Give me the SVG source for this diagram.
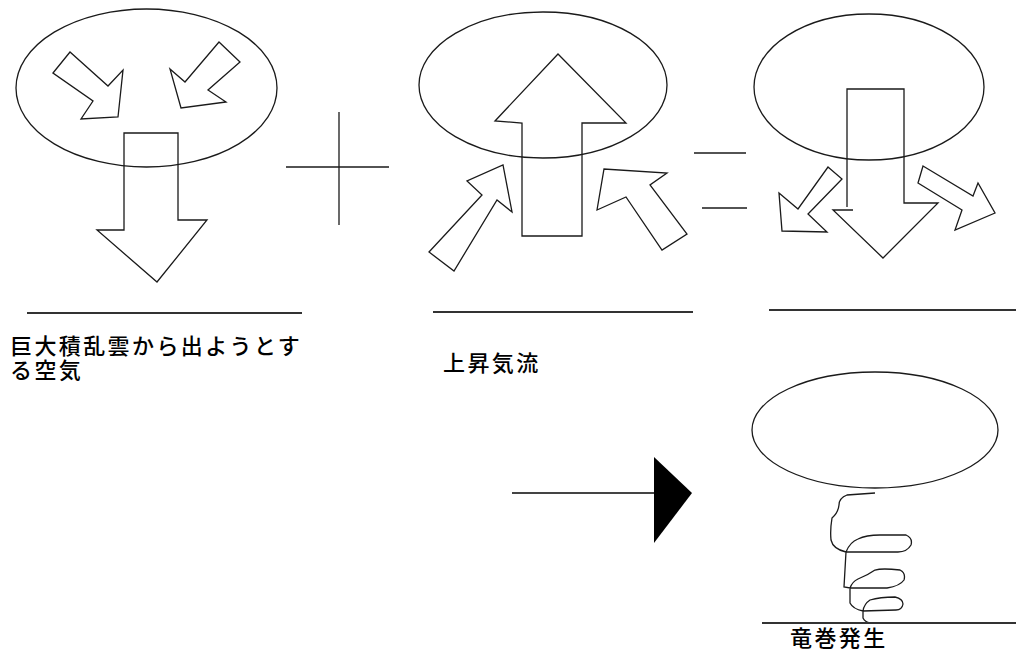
<svg xmlns="http://www.w3.org/2000/svg" width="1016" height="663" viewBox="0 0 1016 663">
  <style>
    .ln { fill: none; stroke: #1a1a1a; stroke-width: 1.3; stroke-linejoin: miter; }
    .sh { fill: #fff; stroke: #1a1a1a; stroke-width: 1.3; stroke-linejoin: miter; }
    .base { stroke: #333; stroke-width: 2; }
    .lbl { font-family: "Noto Sans CJK JP", "Noto Sans CJK SC", sans-serif; font-size: 22px; font-weight: 500; letter-spacing: 2.4px; fill: #000; }
  </style>
  <rect width="1016" height="663" fill="#fff"/>

  <!-- Panel 1: air trying to leave the cloud -->
  <g id="panel-outflow">
    <ellipse class="ln" cx="146.5" cy="88" rx="130.5" ry="79"/>
    <polygon class="sh" points="53,73 70,52 108,86 123,70 118,117 81,119 93,101"/>
    <polygon class="sh" points="170,69 185,82 219,42 240,62 208,90 226,102 181,108"/>
    <polygon class="ln" points="124,133 178,133 178,220 207,220 157,282 97,230 124,230"/>
    <line class="base" x1="27" y1="313" x2="302" y2="313"/>
    <text class="lbl"><tspan x="10" y="354">巨大積乱雲から出ようとす</tspan><tspan x="10" y="378">る空気</tspan></text>
  </g>

  <!-- plus sign -->
  <g id="plus">
    <line class="ln" x1="286" y1="167" x2="389" y2="167"/>
    <line class="ln" x1="339" y1="112" x2="339" y2="225"/>
  </g>

  <!-- Panel 2: updraft -->
  <g id="panel-updraft">
    <ellipse class="ln" cx="543" cy="85" rx="124" ry="73"/>
    <polygon class="ln" points="558,54 626,123 582,123 582,236 522,236 522,123 495,121"/>
    <polygon class="sh" points="429,252 482,195 467,181 503,165 512,212 497,200 454,271"/>
    <polygon class="sh" points="597,210 604,169 667,173 650,185 687,234 662,250 626,197"/>
    <line class="base" x1="433" y1="312" x2="693" y2="312"/>
    <text class="lbl" x="443" y="371">上昇気流</text>
  </g>

  <!-- equals sign -->
  <g id="equals">
    <line class="ln" x1="694" y1="153" x2="746" y2="153"/>
    <line class="ln" x1="702" y1="208" x2="747" y2="208"/>
  </g>

  <!-- Panel 3: downdraft spreading out -->
  <g id="panel-downdraft">
    <ellipse class="ln" cx="869" cy="87" rx="115" ry="73"/>
    <polyline class="ln" points="847,207 847,89 904,89 904,203 938,203 883,258 833,210 853,210"/>
    <polygon class="sh" points="828,167 842,179 808,214 827,232 782,231 779,193 798,209"/>
    <polygon class="sh" points="923,166 973,196 978,183 995,213 955,230 962,210 918,183"/>
    <line class="base" x1="769" y1="310" x2="1016" y2="310"/>
  </g>

  <!-- connector to the result -->
  <g id="connectors">
    <line x1="512" y1="493" x2="654" y2="493" stroke="#444" stroke-width="2"/>
    <polygon points="654,457 692,493 654,543" fill="#000"/>
  </g>

  <!-- Result: tornado forms -->
  <g id="panel-tornado">
    <ellipse class="ln" cx="875" cy="430" rx="123" ry="58"/>
    <path class="ln" d="M875,493 L847,495 Q839,498 839,505 Q838,513 832,518 Q830,530 831,540 Q833,549 846,552
             Q850,542 858,539 Q866,535 880,535 L906,535 Q913,538 911,545 Q907,552 898,552 L846,552
             L844,587 L850,588 Q852,582 858,579 Q868,575 875,570 Q882,568 900,570 Q906,573 904,580 Q900,586 887,588 L850,588
             L850,603 Q853,609 863,611 Q864,604 870,600 Q880,597 895,597 Q903,599 903,604 Q902,610 896,610 L863,611
             L863,618 Q865,622 870,623"/>
    <line class="base" x1="762" y1="623" x2="1016" y2="623"/>
    <text class="lbl" x="790" y="646">竜巻発生</text>
  </g>
</svg>
